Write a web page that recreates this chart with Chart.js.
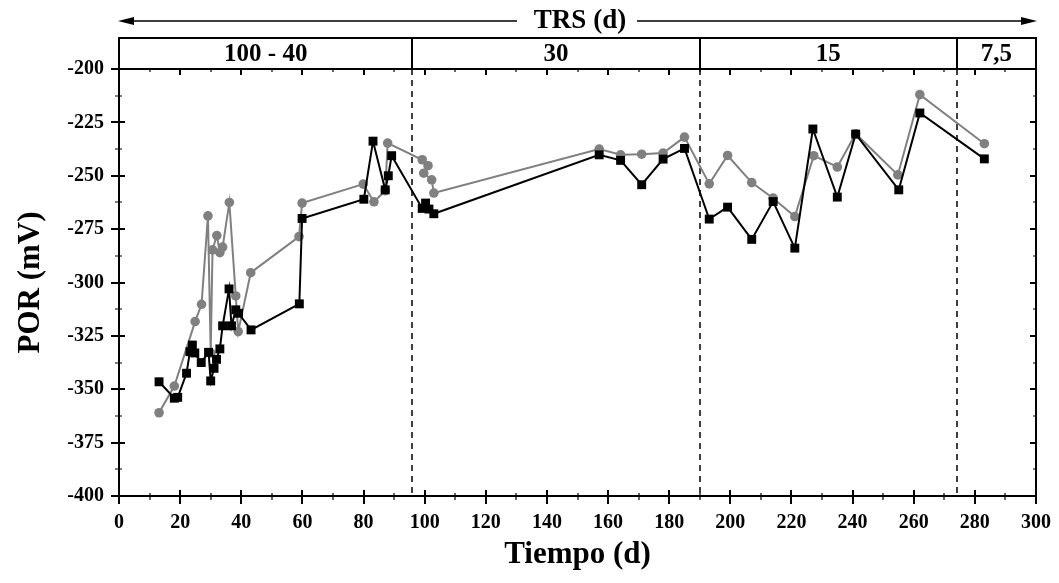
<!DOCTYPE html>
<html>
<head>
<meta charset="utf-8">
<script src="https://cdn.jsdelivr.net/npm/chart.js@4.4.0/dist/chart.umd.min.js"></script>
<style>
  body { margin: 0; background: #fff; }
</style>
</head>
<body>
<canvas id="porChart" width="1059" height="583"></canvas>
<script>
// Serie negra (cuadrados): tiempo (d) y POR (mV)
const tiempoNegro = [13.1, 18.1, 19.2, 22.1, 23.2, 24.0, 24.8, 26.9, 29.3, 30.0, 31.1, 31.9, 33.0, 33.9,
  36.0, 36.8, 38.2, 39.1, 43.2, 59.0, 59.9, 80.1, 83.1, 87.1, 88.1, 89.2, 99.2, 100.3, 101.4, 103.0,
  157.1, 164.1, 171.0, 178.0, 185.0, 193.1, 199.1, 207.0, 214.0, 221.1, 227.0, 235.0, 241.0, 255.1, 262.0, 283.1];
const porNegro = [-346.5, -354.2, -353.8, -342.5, -332.4, -329.3, -333.0, -337.5, -332.7, -346.1, -340.2, -336.0, -331.1, -320.3,
  -303.0, -320.3, -312.8, -314.4, -322.2, -310.0, -270.0, -261.0, -233.8, -256.6, -250.0, -240.6, -265.3, -262.8, -265.6, -267.8,
  -240.2, -242.8, -254.2, -242.2, -237.2, -270.3, -264.7, -279.8, -262.1, -283.9, -228.1, -260.0, -230.5, -256.6, -220.6, -242.1];

// Serie gris (círculos): tiempo (d) y POR (mV)
const tiempoGris = [13.1, 18.1, 24.9, 27.0, 29.1, 30.0, 30.6, 32.0, 33.0, 33.9, 36.1, 38.2, 39.0, 43.1,
  58.9, 59.9, 79.9, 83.4, 87.1, 87.9, 99.2, 101.1, 99.7, 102.3, 103.0,
  157.1, 164.1, 171.0, 178.0, 185.0, 193.1, 199.1, 207.0, 214.0, 221.1, 227.3, 235.0, 241.0, 254.8, 262.0, 283.1];
const porGris = [-361.0, -348.5, -318.3, -310.2, -268.8, -333.0, -284.7, -278.0, -286.0, -283.4, -262.5, -306.3, -323.0, -295.4,
  -278.5, -262.8, -253.9, -262.2, -257.0, -234.7, -242.5, -245.3, -248.8, -251.9, -258.1,
  -237.5, -240.2, -239.9, -239.4, -231.9, -253.8, -240.5, -253.2, -260.5, -269.1, -240.6, -245.9, -230.3, -249.6, -212.0, -235.0];

// Cambios de TRS (d) sobre el eje de tiempo y rótulo de cada tramo
const cambiosTRS = [96, 190, 274];
const tramosTRS = ['100 - 40', '30', '15', '7,5'];

const fuente = 'Liberation Serif';

function puntos(xs, ys) {
  return xs.map((t, i) => ({ x: t, y: ys[i] }));
}

// Marco, marcas de los ejes, divisiones de TRS y cabecera
const marco = {
  id: 'marco',
  beforeDatasetsDraw(chart) {
    const { ctx, chartArea: a, scales: { x } } = chart;
    ctx.save();
    ctx.strokeStyle = '#000';
    ctx.lineWidth = 1.5;
    ctx.setLineDash([6, 5]);
    cambiosTRS.forEach(d => {
      const px = Math.round(x.getPixelForValue(d));
      ctx.beginPath();
      ctx.moveTo(px, a.top);
      ctx.lineTo(px, a.bottom);
      ctx.stroke();
    });
    ctx.restore();
  },
  afterDraw(chart) {
    const { ctx, chartArea: a, scales: { x, y } } = chart;
    const topCab = 38;
    ctx.save();
    ctx.strokeStyle = '#000';
    ctx.fillStyle = '#000';

    // marcas del eje x (abajo y reflejadas arriba)
    for (let v = 0; v <= 300; v += 10) {
      const px = Math.round(x.getPixelForValue(v));
      const mayor = v % 20 === 0;
      ctx.lineWidth = mayor ? 2 : 1.2;
      ctx.beginPath();
      ctx.moveTo(px, a.bottom - (mayor ? 6 : 3));
      ctx.lineTo(px, a.bottom + (mayor ? 8 : 4));
      ctx.moveTo(px, a.top);
      ctx.lineTo(px, a.top + (mayor ? 6 : 3));
      ctx.stroke();
    }
    // marcas del eje y (izquierda y reflejadas a la derecha)
    for (let v = -400; v <= -200; v += 12.5) {
      const py = Math.round(y.getPixelForValue(v));
      const mayor = v % 25 === 0;
      ctx.lineWidth = mayor ? 2 : 1.2;
      ctx.beginPath();
      ctx.moveTo(a.left - (mayor ? 8 : 4), py);
      ctx.lineTo(a.left + (mayor ? 6 : 3), py);
      ctx.moveTo(a.right, py);
      ctx.lineTo(a.right - (mayor ? 6 : 3), py);
      ctx.stroke();
    }

    // marco del gráfico y cabecera de TRS
    ctx.lineWidth = 2;
    ctx.strokeRect(a.left, a.top, a.right - a.left, a.bottom - a.top);
    ctx.strokeRect(a.left, topCab, a.right - a.left, a.top - topCab);
    cambiosTRS.forEach(d => {
      const px = Math.round(x.getPixelForValue(d));
      ctx.beginPath();
      ctx.moveTo(px, topCab);
      ctx.lineTo(px, a.top);
      ctx.stroke();
    });
    const bordes = [x.min, ...cambiosTRS, x.max];
    ctx.font = 'bold 25px "' + fuente + '"';
    ctx.textAlign = 'center';
    ctx.textBaseline = 'middle';
    tramosTRS.forEach((t, i) => {
      const cx = x.getPixelForValue((bordes[i] + bordes[i + 1]) / 2);
      ctx.fillText(t, cx, (topCab + a.top) / 2 + 1);
    });

    // flecha de TRS (d)
    const yF = 21, cx = 580;
    ctx.font = 'bold 27px "' + fuente + '"';
    ctx.fillText('TRS (d)', cx, yF);
    ctx.lineWidth = 1.5;
    ctx.beginPath();
    ctx.moveTo(a.left + 10, yF);
    ctx.lineTo(517, yF);
    ctx.moveTo(637, yF);
    ctx.lineTo(a.right - 10, yF);
    ctx.stroke();
    ctx.beginPath();
    ctx.moveTo(a.left - 1, yF);
    ctx.lineTo(a.left + 15, yF - 4);
    ctx.lineTo(a.left + 15, yF + 4);
    ctx.closePath();
    ctx.moveTo(a.right + 1, yF);
    ctx.lineTo(a.right - 15, yF - 4);
    ctx.lineTo(a.right - 15, yF + 4);
    ctx.closePath();
    ctx.fill();
    ctx.restore();
  }
};

const ctx = document.getElementById('porChart').getContext('2d');
const chart = new Chart(ctx, {
  type: 'scatter',
  data: {
    datasets: [{
      label: 'Negro',
      data: puntos(tiempoNegro, porNegro),
      showLine: true,
      borderColor: '#000',
      backgroundColor: '#000',
      borderWidth: 2,
      pointStyle: 'rect',
      pointRadius: 6.3,
      pointBorderWidth: 0
    }, {
      label: 'Gris',
      data: puntos(tiempoGris, porGris),
      showLine: true,
      borderColor: '#808080',
      backgroundColor: '#808080',
      borderWidth: 2,
      pointStyle: 'circle',
      pointRadius: 4.8,
      pointBorderWidth: 0
    }]
  },
  options: {
    responsive: false,
    animation: false,
    layout: { padding: { top: 69, right: 23, left: 0, bottom: 0 } },
    plugins: { legend: { display: false }, tooltip: { enabled: false } },
    scales: {
      x: {
        type: 'linear',
        min: 0, max: 300,
        grid: { display: false, drawTicks: false },
        border: { display: false },
        ticks: {
          stepSize: 20, padding: 15, color: '#000',
          font: { family: fuente, size: 20, weight: 'bold' }
        },
        title: {
          display: true, text: 'Tiempo (d)', color: '#000',
          font: { family: fuente, size: 31, weight: 'bold' },
          padding: { top: 0, bottom: 9 }
        },
        afterFit: s => { s.height = 87; s.paddingLeft = 0; s.paddingRight = 0; }
      },
      y: {
        type: 'linear',
        min: -400, max: -200,
        grid: { display: false, drawTicks: false },
        border: { display: false },
        ticks: {
          stepSize: 25, padding: 15, color: '#000',
          font: { family: fuente, size: 20, weight: 'bold' }
        },
        title: {
          display: true, text: 'POR (mV)', color: '#000',
          font: { family: fuente, size: 31, weight: 'bold' },
          padding: { top: 12, bottom: 0 }
        },
        afterFit: s => { s.width = 119; s.paddingTop = 0; s.paddingBottom = 0; }
      }
    }
  },
  plugins: [marco]
});
</script>
</body>
</html>
